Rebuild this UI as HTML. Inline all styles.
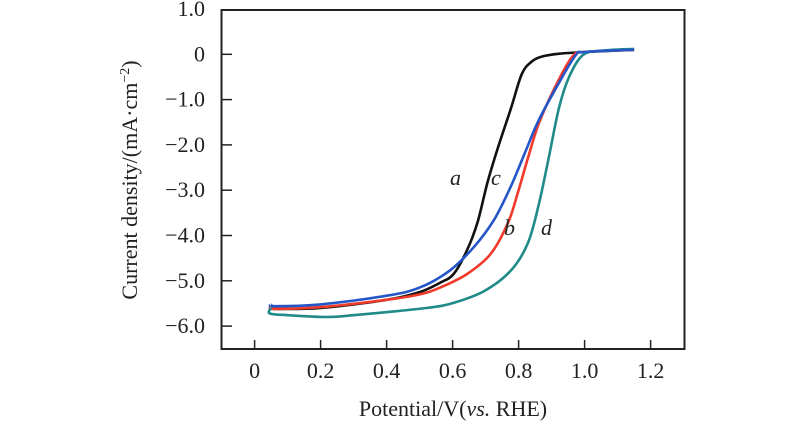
<!DOCTYPE html>
<html><head><meta charset="utf-8"><style>
body{margin:0;background:#fff}
svg{display:block}
text{font-family:"Liberation Serif",serif;fill:#222}
</style></head><body>
<svg id="chart" width="800" height="443">
<rect x="221.5" y="10" width="463" height="339" fill="none" stroke="#222" stroke-width="2"/>
<g id="axes"></g><g id="series"></g>
<text x="137" y="180" font-size="22" text-anchor="middle" transform="rotate(-90 137 180)">Current density/(mA·cm<tspan font-size="14" dy="-8">−2</tspan><tspan dy="8">)</tspan></text>
<text x="453" y="416" font-size="22" text-anchor="middle">Potential/V(<tspan font-style="italic">vs.</tspan> RHE)</text>
<text x="450" y="185" font-size="22" font-style="italic">a</text>
<text x="491" y="185" font-size="22" font-style="italic">c</text>
<text x="504" y="235" font-size="22" font-style="italic">b</text>
<text x="541" y="235" font-size="22" font-style="italic">d</text>
</svg>
<script>
const xTicks=[0,0.2,0.4,0.6,0.8,1.0,1.2];
const xTickLabels=["0","0.2","0.4","0.6","0.8","1.0","1.2"];
const yTicks=[1,0,-1,-2,-3,-4,-5,-6];
const yTickLabels=["1.0","0","−1.0","−2.0","−3.0","−4.0","−5.0","−6.0"];
const aX=[0.05,0.06,0.2,0.4,0.5,0.56,0.603,0.644,0.675,0.706,0.737,0.777,0.81,0.84,0.87,0.92,1.0,1.15];
const aY=[-5.6,-5.62,-5.6,-5.42,-5.25,-5.05,-4.85,-4.32,-3.72,-2.82,-2.07,-1.19,-0.43,-0.16,-0.05,0.01,0.05,0.1];
const bX=[0.05,0.06,0.2,0.4,0.5,0.562,0.644,0.716,0.768,0.798,0.828,0.86,0.91,0.962,1.0,1.15];
const bY=[-5.58,-5.62,-5.58,-5.42,-5.3,-5.15,-4.85,-4.4,-3.72,-3.05,-2.3,-1.55,-0.73,-0.06,0.05,0.1];
const cX=[0.05,0.06,0.2,0.4,0.5,0.592,0.665,0.725,0.777,0.82,0.86,0.92,0.973,1.0,1.15];
const cY=[-5.52,-5.56,-5.52,-5.33,-5.15,-4.77,-4.25,-3.66,-2.91,-2.16,-1.47,-0.66,-0.02,0.05,0.1];
const dX=[0.05,0.046,0.1,0.216,0.3,0.43,0.52,0.592,0.695,0.777,0.828,0.86,0.891,0.922,0.953,0.994,1.05,1.15];
const dY=[-5.6,-5.72,-5.76,-5.8,-5.76,-5.67,-5.6,-5.51,-5.23,-4.77,-4.17,-3.35,-2.3,-1.19,-0.5,-0.02,0.08,0.12];
const sx=v=>254.6+v*330, sy=v=>54.3-v*45.3;
const NS="http://www.w3.org/2000/svg";
const ax=document.getElementById('axes');
xTicks.forEach((t,i)=>{
  const l=document.createElementNS(NS,'line');
  l.setAttribute('x1',sx(t));l.setAttribute('x2',sx(t));l.setAttribute('y1',349);l.setAttribute('y2',340);
  l.setAttribute('stroke','#222');l.setAttribute('stroke-width','1.5');
  
  
  ax.appendChild(l);
  const tx=document.createElementNS(NS,'text');
  tx.setAttribute('x',sx(t));tx.setAttribute('y',378);tx.setAttribute('font-size','22');tx.setAttribute('text-anchor','middle');
  tx.textContent=xTickLabels[i];
  
  
  ax.appendChild(tx);
});
yTicks.forEach((t,i)=>{
  if(t<1){const l=document.createElementNS(NS,'line');
  l.setAttribute('x1',221.5);l.setAttribute('x2',232);l.setAttribute('y1',sy(t));l.setAttribute('y2',sy(t));
  l.setAttribute('stroke','#222');l.setAttribute('stroke-width','1.5');
  
  
  ax.appendChild(l);}
  const tx=document.createElementNS(NS,'text');
  tx.setAttribute('x',205);tx.setAttribute('y',sy(t)+7);tx.setAttribute('font-size','22');tx.setAttribute('text-anchor','end');
  tx.textContent=yTickLabels[i];
  
  
  ax.appendChild(tx);
});
function smooth(xs,ys){
  const p=xs.map((x,i)=>[sx(x),sy(ys[i])]);
  let d='M'+p[0][0].toFixed(1)+' '+p[0][1].toFixed(1);
  for(let i=0;i<p.length-1;i++){
    const p0=p[Math.max(0,i-1)],p1=p[i],p2=p[i+1],p3=p[Math.min(p.length-1,i+2)];
    const c1=[p1[0]+(p2[0]-p0[0])/6,p1[1]+(p2[1]-p0[1])/6];
    const c2=[p2[0]-(p3[0]-p1[0])/6,p2[1]-(p3[1]-p1[1])/6];
    d+='C'+c1.map(v=>v.toFixed(1)).join(' ')+' '+c2.map(v=>v.toFixed(1)).join(' ')+' '+p2.map(v=>v.toFixed(1)).join(' ');
  }
  return d;
}
const sg=document.getElementById('series');
[[aX,aY,'#111','series-a'],[bX,bY,'#f03a2a','series-b'],[dX,dY,'#1f8a88','series-d'],[cX,cY,'#2456c8','series-c']].forEach(s=>{
  const p=document.createElementNS(NS,'path');
  p.setAttribute('d',smooth(s[0],s[1]));p.setAttribute('fill','none');p.setAttribute('stroke',s[2]);
  p.setAttribute('stroke-width','2.6');p.setAttribute('stroke-linejoin','round');
  
  
  sg.appendChild(p);
});
</script>
</body></html>
